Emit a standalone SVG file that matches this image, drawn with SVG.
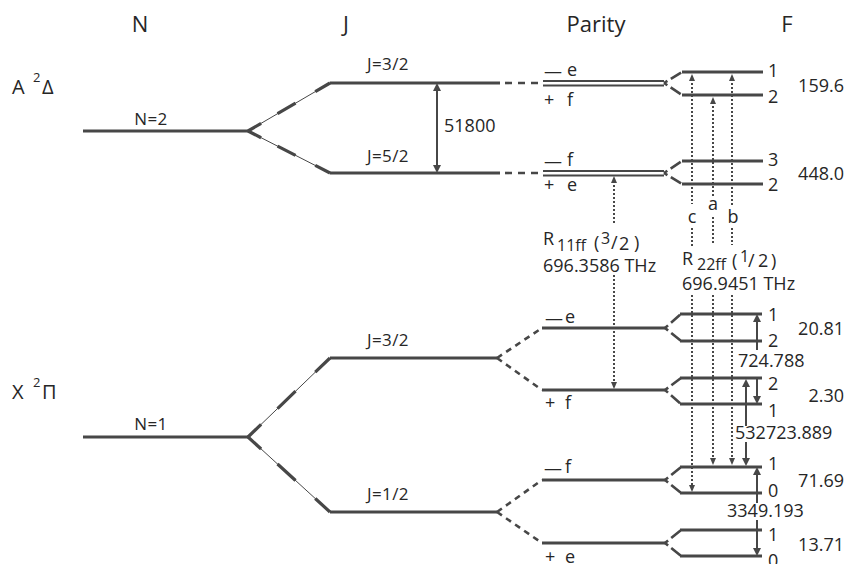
<svg xmlns="http://www.w3.org/2000/svg" width="846" height="564" viewBox="0 0 846 564">
<defs>
<style>
text { font-family: "Open Sans", "Liberation Sans", sans-serif; fill: #262626; }
.hdr { font-size: 22px; text-anchor: middle; }
.lbl { font-size: 17px; text-anchor: middle; letter-spacing: 0.4px; }
.t18 { font-size: 18px; }
.mid { text-anchor: middle; }
.end { text-anchor: end; }
.lvl { stroke: #474747; stroke-width: 3; fill: none; }
.dbl { stroke: #474747; stroke-width: 2.2; fill: none; }
.thin { stroke: #474747; stroke-width: 1; fill: none; }
.thick { stroke: #474747; stroke-width: 3.2; fill: none; stroke-dasharray: 16 20 22 24 18; }
.dash { stroke: #474747; stroke-width: 2.6; fill: none; stroke-dasharray: 7 6; }
.ddash { stroke: #474747; stroke-width: 2.6; fill: none; stroke-dasharray: 6 5; }
.sdash { stroke: #474747; stroke-width: 2.6; fill: none; stroke-dasharray: 4 4 12; }
.dot { stroke: #474747; stroke-width: 2; fill: none; stroke-dasharray: 2 2; }
.arr { stroke: #474747; stroke-width: 2; fill: none; }
</style>
<marker id="ah" viewBox="0 0 8 8" markerWidth="8" markerHeight="8" refX="3" refY="4" orient="auto-start-reverse" markerUnits="userSpaceOnUse">
<path d="M0,0 L8,4 L0,8 Z" fill="#474747"/>
</marker>
<marker id="ad" viewBox="0 0 7 6" markerWidth="7" markerHeight="6" refX="2" refY="3" orient="auto-start-reverse" markerUnits="userSpaceOnUse">
<path d="M0,0 L7,3 L0,6 Z" fill="#474747"/>
</marker>
</defs>
<rect width="846" height="564" fill="#ffffff"/>

<g id="headers">
<text class="hdr" x="140" y="32">N</text>
<text class="hdr" x="346" y="32">J</text>
<text class="hdr" x="596" y="32">Parity</text>
<text class="hdr" x="787" y="32">F</text>
</g>

<g id="state-A">
<text x="12" y="94" font-size="20">A<tspan x="33" y="82" font-size="13">2</tspan><tspan x="42" y="94">Δ</tspan></text>
</g>
<g id="state-X">
<text x="12" y="399" font-size="20">X<tspan x="33" y="387" font-size="13">2</tspan><tspan x="42" y="399">Π</tspan></text>
</g>

<g id="connectors">
<!-- N to J splitting -->
<path class="thin" d="M248,131 L330,83"/>
<path class="thick" pathLength="100" d="M248,131 L330,83"/>
<path class="thin" d="M248,131 L330,173"/>
<path class="thick" pathLength="100" d="M248,131 L330,173"/>
<path class="thin" d="M248,437 L330,358"/>
<path class="thick" pathLength="100" d="M248,437 L330,358"/>
<path class="thin" d="M248,437 L330,512"/>
<path class="thick" pathLength="100" d="M248,437 L330,512"/>
<!-- J to parity -->
<path class="dash" d="M505,83 H543"/>
<path class="dash" d="M505,173 H543"/>
<path class="ddash" d="M497,358 L542,328"/>
<path class="ddash" d="M497,358 L542,390"/>
<path class="ddash" d="M497,512 L542,480"/>
<path class="ddash" d="M497,512 L542,543"/>
<!-- parity to F -->
<path class="sdash" d="M664,83 L682,72"/>
<path class="sdash" d="M664,83 L682,95"/>
<path class="sdash" d="M664,173 L682,161"/>
<path class="sdash" d="M664,173 L682,184"/>
<path class="sdash" d="M665,328 L681,314"/>
<path class="sdash" d="M665,328 L681,341"/>
<path class="sdash" d="M665,390 L681,378"/>
<path class="sdash" d="M665,390 L681,404"/>
<path class="sdash" d="M665,480 L681,467"/>
<path class="sdash" d="M665,480 L681,493"/>
<path class="sdash" d="M665,543 L681,530"/>
<path class="sdash" d="M665,543 L681,556"/>
<!-- 51800 -->
<path class="arr" d="M437,88 V168" marker-start="url(#ah)" marker-end="url(#ah)"/>
<!-- dotted transitions -->
<path class="dot" d="M614,181 V225" marker-start="url(#ad)"/>
<path class="dot" d="M614,275 V384" marker-end="url(#ad)"/>
<path class="dot" d="M692,79 V204" marker-start="url(#ad)"/>
<path class="dot" d="M692,228 V247"/>
<path class="dot" d="M692,295 V487" marker-end="url(#ad)"/>
<path class="dot" d="M713,102 V197" marker-start="url(#ad)"/>
<path class="dot" d="M713,217 V245"/>
<path class="dot" d="M713,295 V460" marker-end="url(#ad)"/>
<path class="dot" d="M732,79 V206" marker-start="url(#ad)"/>
<path class="dot" d="M732,228 V245"/>
<path class="dot" d="M732,295 V460" marker-end="url(#ad)"/>
<!-- solid hyperfine arrows -->
<path class="arr" d="M757,350 V319" marker-end="url(#ah)"/>
<path class="arr" d="M757,377 V399" marker-end="url(#ah)"/>
<path class="arr" d="M746,426 V384" marker-end="url(#ah)"/>
<path class="arr" d="M746,442 V461" marker-end="url(#ah)"/>
<path class="arr" d="M757,503 V472" marker-end="url(#ah)"/>
<path class="arr" d="M757,520 V551" marker-end="url(#ah)"/>
</g>

<g id="N2">
<path class="lvl" d="M83,131 H249"/>
<text class="lbl" x="151" y="125">N=2</text>
</g>
<g id="N1">
<path class="lvl" d="M83,437 H249"/>
<text class="lbl" x="151" y="430">N=1</text>
</g>

<g id="A-J32">
<path class="lvl" d="M330,83 H500"/>
<text class="lbl" x="388" y="70">J=3/2</text>
</g>
<g id="A-J52">
<path class="lvl" d="M330,173 H500"/>
<text class="lbl" x="388" y="162">J=5/2</text>
</g>
<g id="X-J32">
<path class="lvl" d="M330,358 H497"/>
<text class="lbl" x="388" y="346">J=3/2</text>
</g>
<g id="X-J12">
<path class="lvl" d="M330,512 H497"/>
<text class="lbl" x="388" y="500">J=1/2</text>
</g>

<g id="A-parity-top">
<path class="dbl" d="M543,81 H664"/>
<path class="dbl" d="M543,85.5 H664"/>
<text class="t18" x="544" y="78" font-size="15">—<tspan x="567" y="76" font-size="18">e</tspan></text>
<text class="t18" x="544" y="106">+<tspan x="567">f</tspan></text>
</g>
<g id="A-parity-bottom">
<path class="dbl" d="M543,171 H664"/>
<path class="dbl" d="M543,175.5 H664"/>
<text class="t18" x="544" y="168" font-size="15">—<tspan x="567" y="166" font-size="18">f</tspan></text>
<text class="t18" x="544" y="191">+<tspan x="567">e</tspan></text>
</g>
<g id="X-parity-e">
<path class="lvl" d="M542,328 H665"/>
<text class="t18" x="545" y="325" font-size="15">—<tspan x="565" y="323" font-size="18">e</tspan></text>
</g>
<g id="X-parity-f">
<path class="lvl" d="M542,390 H665"/>
<text class="t18" x="545" y="409">+<tspan x="565">f</tspan></text>
</g>
<g id="X-parity-f2">
<path class="lvl" d="M542,480 H665"/>
<text class="t18" x="544" y="475" font-size="15">—<tspan x="565" y="473" font-size="18">f</tspan></text>
</g>
<g id="X-parity-e2">
<path class="lvl" d="M542,543 H665"/>
<text class="t18" x="545" y="563">+<tspan x="565">e</tspan></text>
</g>

<g id="F-A-top">
<path class="lvl" d="M682,72 H763"/>
<path class="lvl" d="M682,95 H763"/>
<text class="t18" x="768" y="77">1</text>
<text class="t18" x="768" y="103">2</text>
<text class="t18 end" x="844" y="92">159.6</text>
</g>
<g id="F-A-bottom">
<path class="lvl" d="M682,161 H763"/>
<path class="lvl" d="M682,184 H763"/>
<text class="t18" x="768" y="166">3</text>
<text class="t18" x="768" y="191">2</text>
<text class="t18 end" x="844" y="180">448.0</text>
</g>
<g id="F-X-e">
<path class="lvl" d="M680,314 H762"/>
<path class="lvl" d="M680,341 H762"/>
<text class="t18" x="768" y="321">1</text>
<text class="t18" x="768" y="347">2</text>
<text class="t18 end" x="844" y="335">20.81</text>
</g>
<g id="F-X-f">
<path class="lvl" d="M680,378 H762"/>
<path class="lvl" d="M680,404 H762"/>
<text class="t18" x="768" y="390">2</text>
<text class="t18" x="768" y="417">1</text>
<text class="t18 end" x="844" y="402">2.30</text>
</g>
<g id="F-X-f2">
<path class="lvl" d="M680,467 H762"/>
<path class="lvl" d="M680,493 H762"/>
<text class="t18" x="768" y="470">1</text>
<text class="t18" x="768" y="497">0</text>
<text class="t18 end" x="844" y="487">71.69</text>
</g>
<g id="F-X-e2">
<path class="lvl" d="M680,530 H762"/>
<path class="lvl" d="M680,556 H762"/>
<text class="t18" x="768" y="541">1</text>
<text class="t18" x="768" y="567">0</text>
<text class="t18 end" x="844" y="551">13.71</text>
</g>

<g id="labels">
<text class="t18" x="444" y="132">51800</text>
<text class="t18" x="543" y="245">R<tspan x="557" y="251" font-size="16">11ff</tspan><tspan x="594" y="249">(</tspan><tspan x="601" y="244" font-size="16">3</tspan><tspan x="611" y="249">/</tspan><tspan x="619" y="250">2</tspan><tspan x="634" y="249">)</tspan></text>
<text class="t18" x="543" y="272">696.3586 THz</text>
<text class="t18" x="682" y="265">R<tspan x="697" y="270" font-size="16">22ff</tspan><tspan x="732" y="267">(</tspan><tspan x="740" y="262" font-size="16">1</tspan><tspan x="748" y="267">/</tspan><tspan x="758" y="267">2</tspan><tspan x="771" y="267">)</tspan></text>
<text class="t18" x="682" y="290">696.9451 THz</text>
<text class="t18 mid" x="692" y="223">c</text>
<text class="t18 mid" x="713" y="210">a</text>
<text class="t18 mid" x="733" y="223">b</text>
<text class="t18" x="738" y="367">724.788</text>
<text class="t18" x="735" y="439">532723.889</text>
<text class="t18" x="727" y="517">3349.193</text>
</g>
</svg>
